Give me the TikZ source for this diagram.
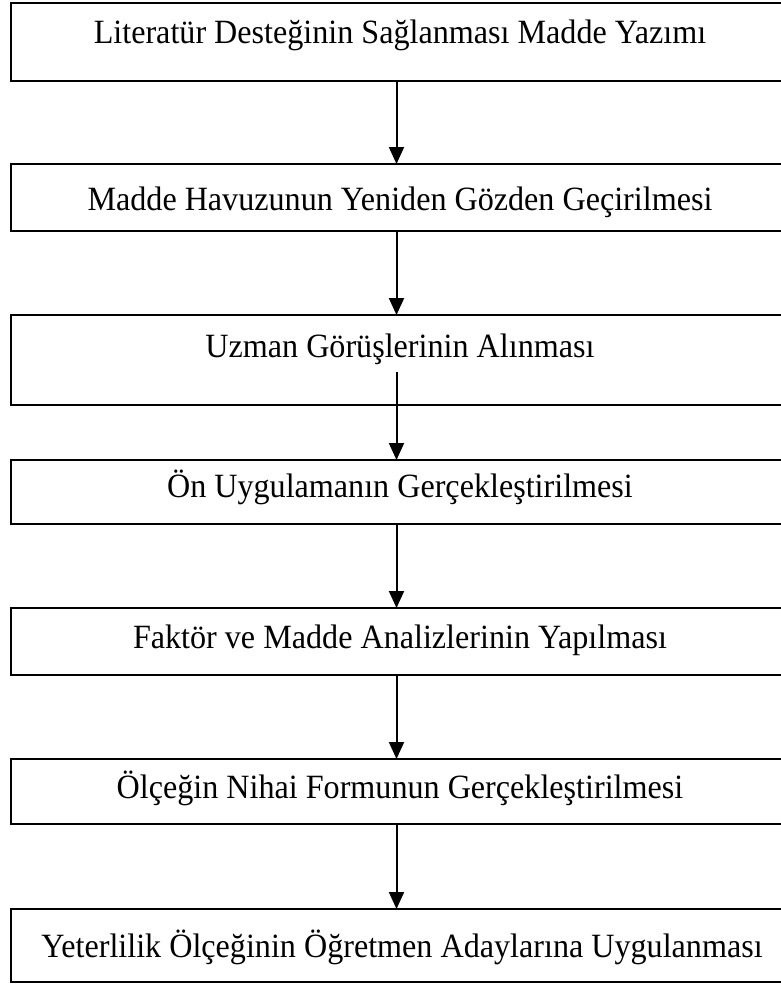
\documentclass[tikz,border=0pt]{standalone}
\usepackage{fontspec}
\setmainfont{Liberation Serif}
\newfontfamily\boxfont{Liberation Serif}[FakeStretch=0.945]
\usetikzlibrary{arrows.meta}

\begin{document}
\begin{tikzpicture}[
        x=1pt, y=-1pt,
        stepbox/.style={draw, line width=2pt, inner sep=0pt, outer sep=0pt, minimum width=771pt},
        steptext/.style={anchor=base, inner sep=0pt, font=\boxfont\fontsize{34}{40}\selectfont},
        arrow/.style={line width=2pt, -{Triangle[width=15pt,length=17pt]}}
        ]
        \useasboundingbox (0,0) rectangle (780,985);
        \foreach \i/\y/\h in {1/42/78, 2/197.5/67, 3/360/90, 4/492/64, 5/641.5/67, 6/791.5/65, 7/945.5/73} {
            \node[stepbox, minimum height=\h pt] (b\i) at (396.5,\y) {};
        }
        \node[steptext] (t1) at (400,43) {Literatür Desteğinin Sağlanması Madde Yazımı};
        \node[steptext] (t2) at (400,210) {Madde Havuzunun Yeniden Gözden Geçirilmesi};
        \node[steptext] (t3) at (400,357) {Uzman Görüşlerinin Alınması};
        \node[steptext] (t4) at (400,497) {Ön Uygulamanın Gerçekleştirilmesi};
        \node[steptext] (t5) at (400,648) {Faktör ve Madde Analizlerinin Yapılması};
        \node[steptext] (t6) at (400,798) {Ölçeğin Nihai Formunun Gerçekleştirilmesi};
        \node[steptext] (t7) at (402,957) {Yeterlilik Ölçeğinin Öğretmen Adaylarına Uygulanması};
        \coordinate (a3) at (396.5,372);
        \draw[arrow] (b1.south) -- (b2.north);
        \draw[arrow] (b2.south) -- (b3.north);
        \draw[arrow] (a3) -- (b4.north);
        \foreach \i in {4,5,6} {
            \draw[arrow] (b\i.south) -- (b\the\numexpr\i+1.north);
        }
    \end{tikzpicture}
\end{document}
